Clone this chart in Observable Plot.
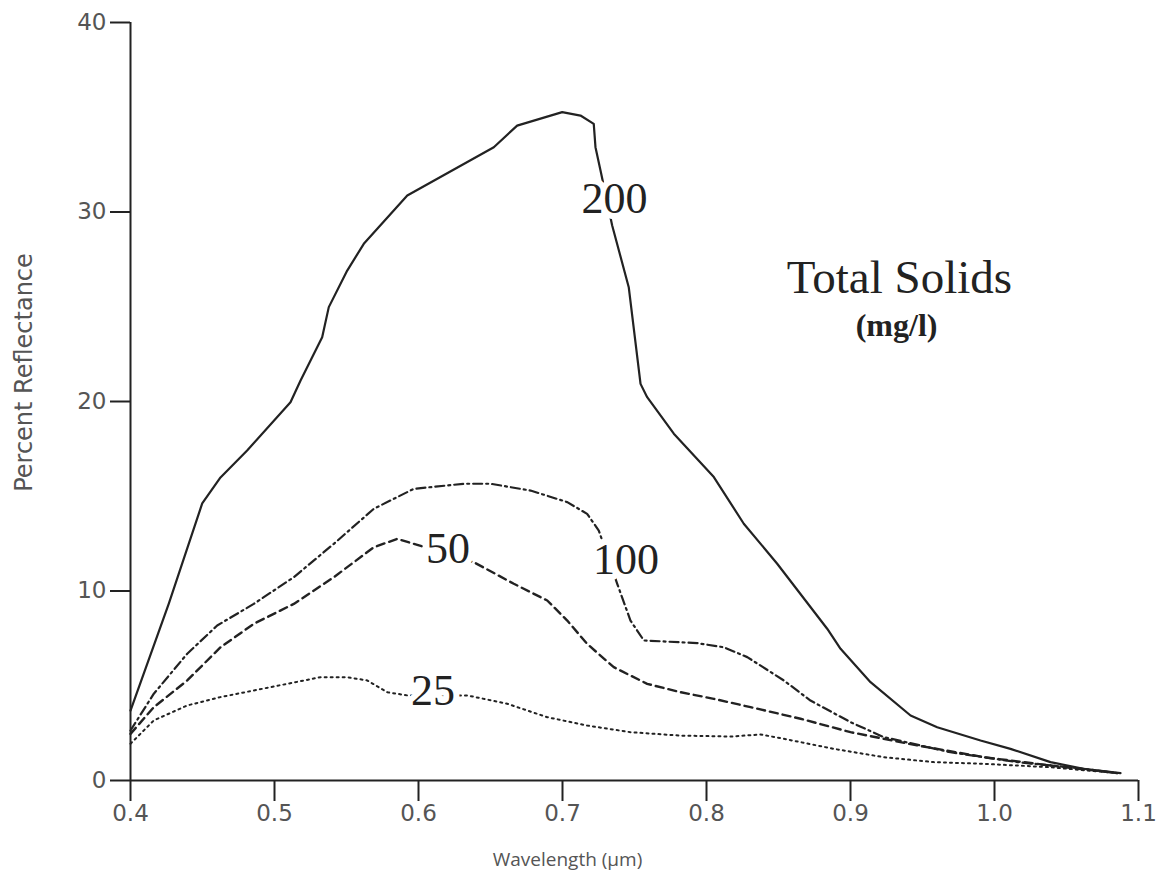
<!DOCTYPE html>
<html>
<head>
<meta charset="utf-8">
<script src="https://cdn.jsdelivr.net/npm/d3@7"></script>
<script src="https://cdn.jsdelivr.net/npm/@observablehq/plot@0.6"></script>
<style>
  html, body { margin: 0; padding: 0; background: #fff; }
  #chart svg { display: block; overflow: visible; }
</style>
</head>
<body>
<div id="chart"></div>
<script>
// Wavelength (µm) and percent reflectance for each total-solids concentration (mg/l)
const wl200 = [0.400,0.4266,0.4498,0.4625,0.4810,0.5111,0.5181,0.5331,0.5377,0.5505,0.5620,0.5922,0.6523,0.6685,0.6998,0.7125,0.7217,0.7229,0.7264,0.7345,0.7460,0.7542,0.7588,0.7773,0.8051,0.8259,0.8491,0.8838,0.8931,0.9139,0.9417,0.9602,0.9903,1.0111,1.0389,1.0618,1.0875];
const r200  = [3.69,9.34,14.62,15.99,17.41,19.96,21.11,23.39,24.98,26.91,28.32,30.87,33.42,34.56,35.27,35.09,34.65,33.42,32.19,29.29,26.03,20.93,20.23,18.30,16.01,13.55,11.44,8.01,6.95,5.19,3.43,2.81,2.11,1.67,0.97,0.62,0.39];

const wl100 = [0.400,0.4162,0.4394,0.4602,0.4856,0.5134,0.5412,0.5690,0.5967,0.6315,0.6500,0.6778,0.7033,0.7171,0.7252,0.7380,0.7472,0.7565,0.7935,0.8120,0.8283,0.8537,0.8722,0.9000,0.9231,0.9694,1.0158,1.0618,1.0852];
const r100  = [2.64,4.58,6.69,8.18,9.32,10.73,12.49,14.34,15.39,15.66,15.66,15.30,14.69,14.07,13.19,10.38,8.44,7.39,7.25,7.03,6.51,5.28,4.22,3.08,2.29,1.49,0.97,0.62,0.39];

const wl50 = [0.400,0.4162,0.4394,0.4625,0.4856,0.5134,0.5412,0.5690,0.5852,0.5967,0.6384,0.6662,0.6894,0.7033,0.7171,0.7356,0.7588,0.7819,0.8051,0.8306,0.8653,0.9000,0.9463,0.9926,1.0389,1.0852];
const r50  = [2.46,3.87,5.28,7.03,8.27,9.32,10.73,12.31,12.75,12.49,11.52,10.38,9.50,8.44,7.21,5.98,5.10,4.66,4.31,3.87,3.26,2.55,1.85,1.23,0.79,0.39];

const wl25 = [0.400,0.4162,0.4394,0.4625,0.4856,0.5088,0.5319,0.5505,0.5644,0.5783,0.5922,0.6338,0.6616,0.6894,0.7171,0.7472,0.7819,0.8167,0.8375,0.8537,0.8884,0.9231,0.9578,0.9926,1.0389,1.0852];
const r25  = [1.94,3.17,3.96,4.40,4.75,5.10,5.45,5.45,5.28,4.66,4.49,4.49,4.05,3.34,2.90,2.55,2.37,2.32,2.43,2.20,1.67,1.23,0.97,0.88,0.70,0.39];

// Curve labels
const curveLabels = ["200", "100", "50", "25"];
const curveLabelX = [0.7361, 0.7441, 0.6205, 0.6101];
const curveLabelY = [30.71, 11.66, 12.22, 4.75];

// Legend title
const titleText = ["Total Solids", "(mg/l)"];
const titleX = [0.934, 0.932];
const titleY = [26.54, 24.0];

// Axis ticks
const xTicks = [0.4, 0.5, 0.6, 0.7, 0.8, 0.9, 1.0, 1.1];
const yTicks = [0, 10, 20, 30, 40];

const series = (wl, r) => wl.map((x, i) => ({x, y: r[i]}));
const d200 = series(wl200, r200);
const d100 = series(wl100, r100);
const d50 = series(wl50, r50);
const d25 = series(wl25, r25);
const labelRows = curveLabels.map((t, i) => ({t, x: curveLabelX[i], y: curveLabelY[i]}));

const tickFont = "'DejaVu Sans', sans-serif";
const labelFont = "'Open Sans', 'DejaVu Sans', sans-serif";
const serif = "'Liberation Serif', 'Times New Roman', serif";
const ink = "#222";
const grey = "#555";

const chart = Plot.plot({
  width: 1159,
  height: 880,
  marginLeft: 130,
  marginRight: 21,
  marginTop: 22,
  marginBottom: 100,
  style: {background: "#fff", overflow: "visible"},
  x: {domain: [0.4, 1.1]},
  y: {domain: [0, 40]},
  marks: [
    Plot.axisX({ticks: xTicks, tickFormat: d => d.toFixed(1), tickSize: 21, tickPadding: 3,
      fontSize: 23, fontFamily: tickFont, fill: grey, stroke: ink, strokeWidth: 2, label: null}),
    Plot.axisY({ticks: yTicks, tickSize: 20, tickPadding: 4,
      fontSize: 23, fontFamily: tickFont, fill: grey, stroke: ink, strokeWidth: 2, label: null}),
    Plot.ruleX([0.4], {y1: 0, y2: 40, stroke: ink, strokeWidth: 2}),
    Plot.ruleY([0], {x1: 0.4, x2: 1.1, stroke: ink, strokeWidth: 2}),
    Plot.text(["Wavelength (µm)"], {frameAnchor: "bottom", textAnchor: "middle", dx: -67, dy: 85,
      fontSize: 19, fontFamily: labelFont, fill: grey}),
    Plot.text(["Percent Reflectance"], {frameAnchor: "left", textAnchor: "middle", dx: -106, dy: -29, rotate: -90,
      fontSize: 24, fontFamily: tickFont, fill: grey}),
    Plot.line(d25, {x: "x", y: "y", stroke: ink, strokeWidth: 2, strokeDasharray: "2,4", strokeLinecap: "round"}),
    Plot.line(d50, {x: "x", y: "y", stroke: ink, strokeWidth: 2.4, strokeDasharray: "8,5"}),
    Plot.line(d100, {x: "x", y: "y", stroke: ink, strokeWidth: 2.2, strokeDasharray: "9,4,2,4"}),
    Plot.line(d200, {x: "x", y: "y", stroke: ink, strokeWidth: 2.2}),
    Plot.text(labelRows, {x: "x", y: "y", text: "t", fontSize: 44, fontFamily: serif, fill: ink,
      stroke: "white", strokeWidth: 12, paintOrder: "stroke", strokeLinejoin: "round"}),
    Plot.text([titleText[0]], {x: [titleX[0]], y: [titleY[0]], text: d => d, fontSize: 47, fontFamily: serif, fill: ink}),
    Plot.text([titleText[1]], {x: [titleX[1]], y: [titleY[1]], text: d => d, fontSize: 32, fontWeight: "bold", fontFamily: serif, fill: ink})
  ]
});
document.getElementById("chart").appendChild(chart);
</script>
</body>
</html>
